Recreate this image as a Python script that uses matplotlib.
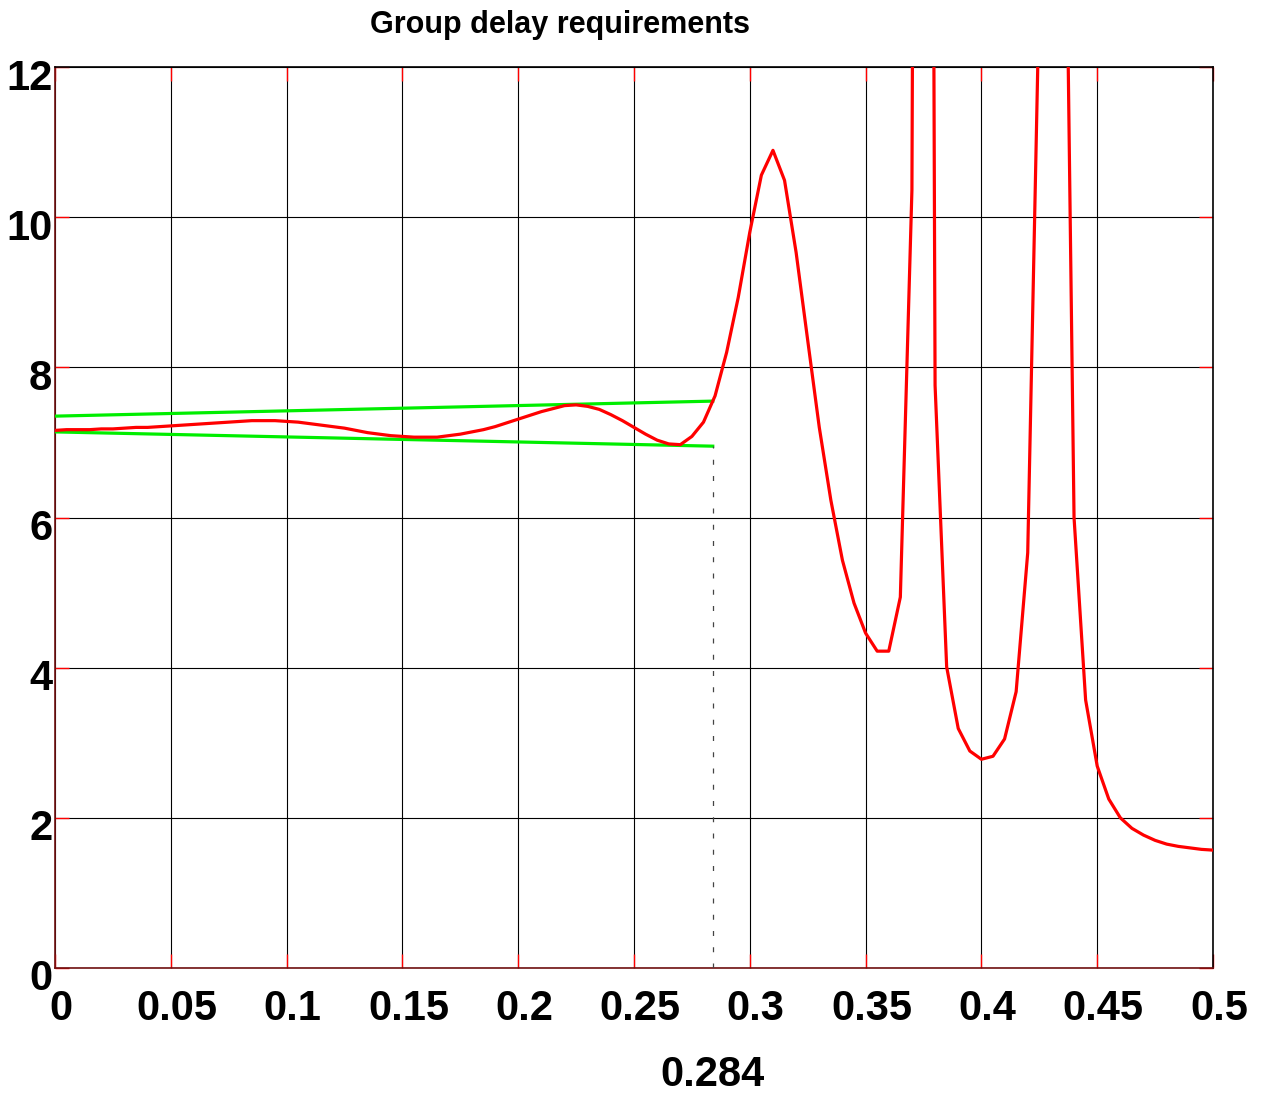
import matplotlib
matplotlib.use('Agg')
import matplotlib.pyplot as plt
import matplotlib.transforms as mtransforms
import numpy as np

# normalised frequency, 0.005 steps
freq = np.arange(0, 101) * 0.005

# group delay
delay = [7.16, 7.17, 7.17, 7.17, 7.18, 7.18, 7.19, 7.20, 7.20, 7.21,
         7.22, 7.23, 7.24, 7.25, 7.26, 7.27, 7.28, 7.29, 7.29, 7.29,
         7.28, 7.27, 7.25, 7.23, 7.21, 7.19, 7.16, 7.13, 7.11, 7.09,
         7.08, 7.07, 7.07, 7.07, 7.09, 7.11, 7.14, 7.17, 7.21, 7.26,
         7.31, 7.36, 7.41, 7.45, 7.49, 7.50, 7.48, 7.44, 7.37, 7.29,
         7.20, 7.11, 7.03, 6.98, 6.97, 7.08, 7.27, 7.62, 8.20, 8.93,
         9.80, 10.56, 10.89, 10.49, 9.53, 8.36, 7.20, 6.23, 5.43, 4.86,
         4.46, 4.22, 4.22, 4.94, 10.36, 50.0, 7.76, 4.01, 3.19, 2.89,
         2.78, 2.82, 3.05, 3.68, 5.53, 13.0, 40.0, 18.0, 6.0, 3.57,
         2.69, 2.25, 2.00, 1.86, 1.77, 1.70, 1.65, 1.62, 1.60, 1.58,
         1.57]

# requirement mask (upper / lower bound)
mask_x = [0.0, 0.284]
mask_upper = [7.35, 7.55]
mask_lower = [7.14, 6.95]
edge_freq = 0.284

xticks = [0, 0.05, 0.1, 0.15, 0.2, 0.25, 0.3, 0.35, 0.4, 0.45, 0.5]
xticklabels = ['0', '0.05', '0.1', '0.15', '0.2', '0.25', '0.3', '0.35', '0.4', '0.45', '0.5']
yticks = [0, 2, 4, 6, 8, 10, 12]

tick_font = ['Liberation Sans', 'DejaVu Sans']

fig = plt.figure(figsize=(12.61, 10.95), dpi=100)
ax = fig.add_axes([55 / 1261, 1 - 968 / 1095, 1158 / 1261, 901 / 1095])

ax.plot(freq, delay, color='#ff0000', lw=2.3, zorder=4)
ax.plot(mask_x, mask_upper, color='#00ee00', lw=2.3, zorder=3)
ax.plot(mask_x, mask_lower, color='#00ee00', lw=2.3, zorder=3)
ax.plot([edge_freq, edge_freq], [0, mask_lower[-1]], color='#444444', lw=0.9,
        linestyle=(0, (4, 9)), zorder=3)

ax.set_xlim(0, 0.5)
ax.set_ylim(0, 12)
ax.set_xticks(xticks)
ax.set_xticklabels(xticklabels)
ax.set_yticks(yticks)
ax.set_yticklabels([str(v) for v in yticks])
ax.grid(True, color='black', lw=0.8, zorder=1)
ax.set_axisbelow(True)

ax.tick_params(axis='both', direction='in', length=10, width=1, color='#ff0000',
               top=True, right=True, labelsize=30)
ax.tick_params(axis='x', pad=15)
ax.tick_params(axis='y', pad=2)
for lbl in ax.get_xticklabels() + ax.get_yticklabels():
    lbl.set_fontfamily(tick_font)
    lbl.set_fontweight('bold')
# labels sit a little off their grid lines in the original
for lbl in ax.get_yticklabels():
    lbl.set_transform(lbl.get_transform() + mtransforms.ScaledTranslation(0, -7 / 100, fig.dpi_scale_trans))
for lbl in ax.get_xticklabels():
    lbl.set_transform(lbl.get_transform() + mtransforms.ScaledTranslation(6 / 100, 0, fig.dpi_scale_trans))

for side in ['left', 'bottom']:
    ax.spines[side].set_color('#701010')
for side in ['top', 'right']:
    ax.spines[side].set_color('black')
for sp in ax.spines.values():
    sp.set_linewidth(1.2)

ax.text(edge_freq, -118 / 901, '0.284', transform=ax.get_xaxis_transform(), ha='center', va='baseline',
        fontsize=30, fontweight='bold', family=tick_font)

fig.text(560 / 1261, 1 - 33 / 1095, 'Group delay requirements', ha='center', va='baseline',
         fontsize=22, fontweight='bold', family=['Liberation Sans', 'DejaVu Sans'])

plt.savefig('out.png', dpi=100)
